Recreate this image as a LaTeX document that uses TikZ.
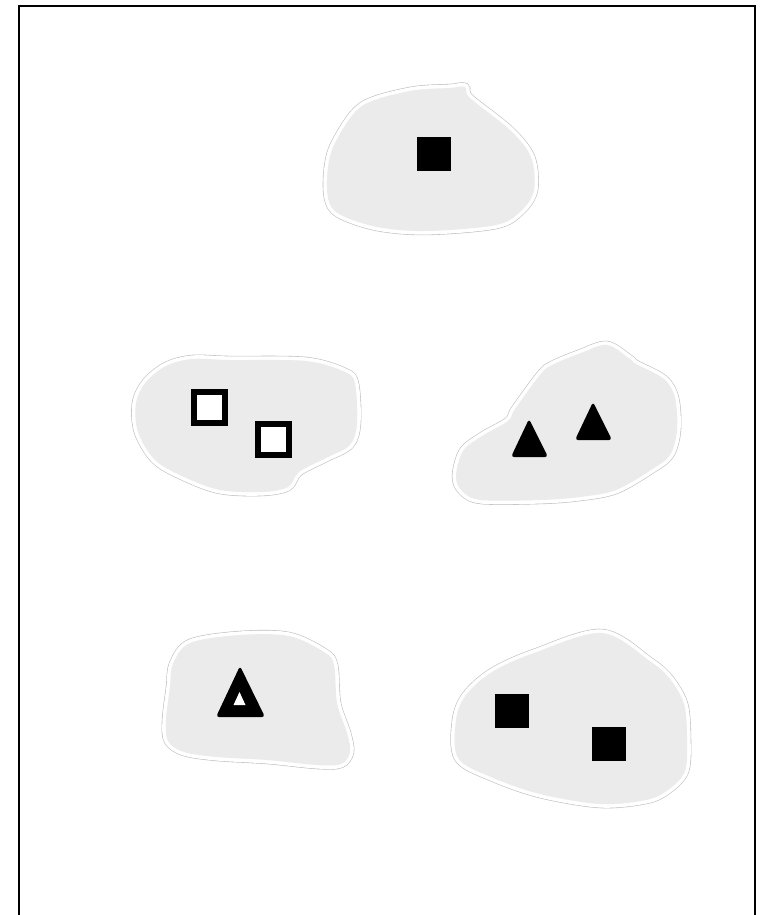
\documentclass[tikz,border=0pt]{standalone}
\definecolor{blobfill}{RGB}{235,235,235}
\definecolor{blobline}{RGB}{190,190,190}
\begin{document}
\begin{tikzpicture}[x=0.5pt, y=-0.5pt,
		blob/.style={fill=blobfill, preaction={draw=blobline, line width=4.2pt}, preaction={draw=white, line width=3.6pt}},
		full/.style={fill=black, minimum size=17pt, inner sep=0pt},
		hollow/.style={draw=black, line width=3pt, fill=white, minimum size=15.5pt, inner sep=0pt},
		tri/.style={fill=black, rounded corners=1.5pt}]
	\useasboundingbox (0,0) rectangle (764,915);
	\draw[line width=1.2pt] (19,915) -- (19,6) -- (755,6) -- (755,915);
	% the five sets
	\path[blob] plot[smooth cycle, tension=0.55] coordinates {(450,88) (465,87) (470,98) (510,130) (531,157) (534,190) (521,211) (496,225) (427,231) (377,227) (339,214) (328,198) (328,167) (336,141) (362,106) (410,91)};
	\path[blob] plot[smooth cycle, tension=0.55] coordinates {(230,360) (306,361) (345,372) (355,384) (357,423) (350,445) (326,458) (299,472) (288,487) (262,492) (220,490) (184,477) (155,460) (138,432) (136,403) (146,382) (166,366) (192,359)};
	\path[blob] plot[smooth cycle, tension=0.55] coordinates {(607,345) (630,359) (636,364) (664,379) (675,398) (677,430) (670,455) (651,470) (616,490) (580,497) (540,500) (481,500) (462,491) (456,476) (463,451) (482,436) (508,421) (515,409) (540,375) (552,365) (581,353)};
	\path[blob] plot[smooth cycle, tension=0.55] coordinates {(190,643) (240,635) (289,636) (324,652) (334,665) (337,703) (347,733) (350,752) (341,764) (317,765) (267,760) (217,757) (184,752) (168,741) (166,720) (170,687) (173,664)};
	\path[blob] plot[smooth cycle, tension=0.55] coordinates {(602,633) (651,662) (670,679) (684,704) (687,737) (685,771) (668,790) (646,800) (600,804) (540,794) (491,777) (458,758) (456,720) (466,695) (492,672) (534,653)};
	% elements
	\node[full] (a) at (434,154) {};
	\node[hollow] (b1) at (209.5,407) {};
	\node[hollow] (b2) at (273.5,439.5) {};
	\fill[tri] (529,419) -- (548,457) -- (511,457) -- cycle;
	\fill[tri] (593,402) -- (612,440) -- (575,440) -- cycle;
	\fill[tri] (240,666) -- (265,717) -- (216,717) -- cycle;
	\fill[white] (239.5,692) -- (245.5,705) -- (233.5,705) -- cycle;
	\node[full] (e1) at (512,711) {};
	\node[full] (e2) at (608.5,744) {};
\end{tikzpicture}
\end{document}
